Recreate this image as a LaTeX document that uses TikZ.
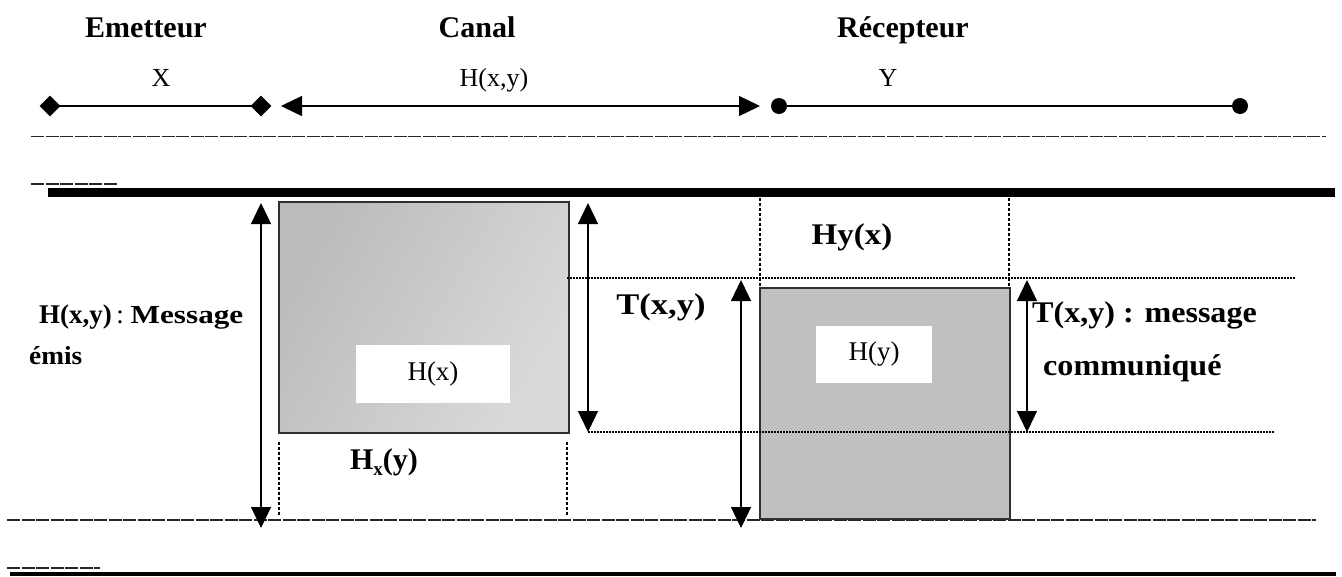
\documentclass[tikz,border=0pt]{standalone}
\usepackage{fontspec}
\setmainfont{Liberation Serif}
\usetikzlibrary{arrows.meta,shapes.geometric}
\definecolor{shadeA}{HTML}{BBBBBB}
\definecolor{shadeB}{HTML}{DADADA}
\definecolor{boxgray}{HTML}{C0C0C0}
\definecolor{edge}{HTML}{303030}
% horizontally widened text
\newcommand{\hwide}[2]{\scalebox{#1}[1]{#2}}

\begin{document}
\begin{tikzpicture}[x=1pt,y=-1pt,
  title/.style={font=\fontsize{30}{36}\selectfont\bfseries, inner sep=0pt, anchor=base},
  lbl/.style={font=\fontsize{26}{31}\selectfont, inner sep=0pt, anchor=base},
  blbl/.style={font=\fontsize{30}{36}\selectfont\bfseries, inner sep=0pt},
  rule/.style={line width=1.4pt, dash pattern=on 13pt off 1.5pt, draw=black!85},
  thin/.style={line width=1.4pt},
  dots/.style={line width=1.2pt, dash pattern=on 1.5pt off 1.5pt},
  vdots/.style={line width=1.1pt, dash pattern=on 3pt off 2pt},
  dbl/.style={{Triangle[length=21pt,width=20pt]}-{Triangle[length=21pt,width=20pt]}, line width=1.3pt},
  endmark/.style={diamond, fill=black, inner sep=0pt, minimum width=21pt, minimum height=21pt},
  dotmark/.style={circle, fill=black, inner sep=0pt, minimum size=16pt},
  whitebox/.style={fill=white, inner sep=0pt, font=\fontsize{27}{32}\selectfont},
]
\useasboundingbox (0,0) rectangle (1342,576);

% headings
\node[title] (emit) at (146,37) {Emetteur};
\node[title] (canal) at (477,37) {Canal};
\node[title] (recep) at (903,37) {Récepteur};

% variables
\node[lbl] (lx) at (161,86) {X};
\node[lbl] (lxy) at (494,86) {H(x,y)};
\node[lbl] (ly) at (888,86) {Y};

% source, channel and receiver segments
\node[endmark] (d1) at (50,106) {};
\node[endmark] (d2) at (261,106) {};
\draw[thin] (d1.center) -- (d2.center);
\coordinate (c1) at (281,106);
\coordinate (c2) at (760,106);
\draw[dbl] (c1) -- (c2);
\node[dotmark] (p1) at (779,106) {};
\node[dotmark] (p2) at (1240,106) {};
\draw[thin] (p1.center) -- (p2.center);

% separators
\draw[rule] (31,136.7) -- (1326,136.7);
\draw[rule] (31,184) -- (117,184);
\fill (48,188) rectangle (1335,197);
\draw[rule] (7,520) -- (1316,520);
\draw[rule] (7,568) -- (100,568);
\fill (10,571.5) rectangle (1336,576);

% entropy blocks
\node[draw=edge, line width=1.3pt, minimum width=290pt, minimum height=231pt,
      left color=shadeA, right color=shadeB, shading angle=60, inner sep=0pt] (bx) at (424,317.5) {};
\node[draw=edge, line width=1.3pt, minimum width=250pt, minimum height=231pt,
      fill=boxgray, inner sep=0pt] (by) at (885,403.5) {};
\node[whitebox, minimum width=154pt, minimum height=58pt] (hx) at (433,374) {H(x)};
\node[whitebox, minimum width=116pt, minimum height=57pt] (hy) at (874,354.5) {H(y)};

% guide lines
\draw[dots] (567,278) -- (1296,278);
\draw[dots] (588,432) -- (1274,432);
\draw[vdots] (760,198) -- (760,288);
\draw[vdots] (1009,198) -- (1009,288);
\draw[vdots] (279,442) -- (279,516);
\draw[vdots] (567,442) -- (567,516);

% measuring arrows
\coordinate (v1t) at (261,203); \coordinate (v1b) at (261,528);
\coordinate (v2t) at (588,203); \coordinate (v2b) at (588,432);
\coordinate (v3t) at (741,280); \coordinate (v3b) at (741,528);
\coordinate (v4t) at (1027,280); \coordinate (v4b) at (1027,432);
\draw[dbl] (v1t) -- (v1b);
\draw[dbl] (v2t) -- (v2b);
\draw[dbl] (v3t) -- (v3b);
\draw[dbl] (v4t) -- (v4b);

% labels
\node[blbl] (hyx) at (852,237) {\hwide{1.1}{Hy(x)}};
\node[blbl] (txy) at (661,307) {\hwide{1.15}{T(x,y)}};
\node[blbl] (hxy) at (384,462) {H\raisebox{-0.22em}{\fontsize{19}{20}\selectfont x}(y)};
\node[inner sep=0pt, anchor=base west] (emis1) at (39,323)
  {\fontsize{27}{32}\selectfont\textbf{H(x,y)}\,:\ \textbf{\fontsize{26}{30}\selectfont\hwide{1.2}{Message}}};
\node[inner sep=0pt, anchor=base west, font=\fontsize{26}{31}\selectfont\bfseries] (emis2) at (29,364) {\hwide{1.05}{émis}};
\node[inner sep=0pt, anchor=base west, font=\fontsize{30}{36}\selectfont\bfseries] (comm1) at (1032,322) {\hwide{1.07}{T(x,y) : message}};
\node[inner sep=0pt, anchor=base west, font=\fontsize{30}{36}\selectfont\bfseries] (comm2) at (1043,375) {\hwide{1.07}{communiqué}};
\end{tikzpicture}
\end{document}
